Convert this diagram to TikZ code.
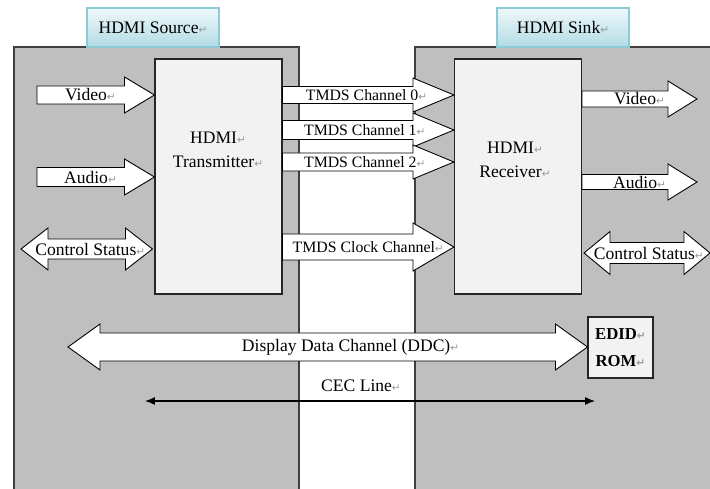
\documentclass[tikz,border=0pt]{standalone}
\usepackage{fontspec}
\setmainfont{Liberation Serif}
\newfontfamily\symfont{DejaVu Sans}
\usetikzlibrary{arrows.meta,calc,positioning}
\definecolor{caseF}{HTML}{BFBFBF}
\definecolor{caseD}{HTML}{3F3F3F}
\definecolor{unitF}{HTML}{F2F2F2}
\definecolor{unitD}{HTML}{262626}
\definecolor{tabT}{HTML}{EEF8FA}
\definecolor{tabB}{HTML}{B2DCE4}
\definecolor{tabD}{HTML}{8ECAD6}
\definecolor{markC}{HTML}{9A9A9A}
\tikzset{
  case/.style={draw=caseD, fill=caseF, line width=0.9pt, minimum width=5.7cm, minimum height=8.9cm},
  unit/.style={draw=unitD, fill=unitF, line width=0.6pt, minimum width=2.54cm, minimum height=4.7cm},
  tab/.style={draw=tabD, top color=tabT, bottom color=tabB, line width=0.6pt, minimum width=2.64cm,
              minimum height=0.78cm, font=\fontsize{10}{12}\selectfont},
  rom/.style={draw=unitD, fill=unitF, line width=0.6pt, minimum width=1.3cm, minimum height=1.22cm,
              align=center, font=\bfseries\fontsize{9.5}{15}\selectfont},
  fat/.style={draw=black, fill=white, line width=0.5pt, line join=miter},
  lab/.style={font=\fontsize{10}{12}\selectfont, inner sep=0pt},
  tmds/.style={lab, font=\fontsize{9}{11}\selectfont},
  cecline/.style={{Latex[length=2mm,width=1.6mm]}-{Latex[length=2mm,width=1.6mm]}, line width=0.6pt},
}
\newcommand\retmark{{\color{markC}\symfont\fontsize{6}{6}\selectfont ↵}}
% [label opts]{from}{tip}{shaft}{head}{head length}{label}
\newcommand\fatarrow[7][]{%
  \draw[fat] ($(#2)+(0,#4)$) -- ($(#3)+(-#6,#4)$) -- ($(#3)+(-#6,#5)$) -- (#3)
    -- ($(#3)+(-#6,-#5)$) -- ($(#3)+(-#6,-#4)$) -- ($(#2)+(0,-#4)$) -- cycle;
  \path (#2) -- node[lab,#1] {#7} (#3);}
\newcommand\dblarrow[7][]{%
  \draw[fat] (#2) -- ($(#2)+(#6,-#5)$) -- ($(#2)+(#6,-#4)$) -- ($(#3)+(-#6,-#4)$) -- ($(#3)+(-#6,-#5)$)
    -- (#3) -- ($(#3)+(-#6,#5)$) -- ($(#3)+(-#6,#4)$) -- ($(#2)+(#6,#4)$) -- ($(#2)+(#6,#5)$) -- cycle;
  \path (#2) -- node[lab,#1] {#7} (#3);}

\begin{document}
\begin{tikzpicture}[x=0.02cm, y=-0.02cm]
\useasboundingbox (0,0) rectangle (710,489);
\node[case] (src) at (156.5,269.5) {};
\node[case, minimum width=6cm] (sink) at (565,269.5) {};
\node[tab] (srctab) at (153,27.5) {HDMI Source\retmark};
\node[tab] (sinktab) at (563,27.5) {HDMI Sink\retmark};
\node[unit] (tx) at (218.5,176.5) {};
\node[unit] (rx) at (518,176.5) {};
\node[lab, align=center, font=\fontsize{10}{14}\selectfont] (txlab) at (218,150) {HDMI\retmark\\Transmitter\retmark};
\node[lab, align=center, font=\fontsize{10}{14}\selectfont] (rxlab) at (515,160) {HDMI\retmark\\Receiver\retmark};
\node[rom] (edid) at (620.5,347.5) {EDID\retmark\\ROM\retmark};
% source side
\coordinate (vin) at (37,95);
\coordinate (ain) at (37,177);
\coordinate (cin) at (21,249);
\fatarrow[xshift=-3]{vin}{vin -| tx.west}{9}{18}{30}{Video\retmark}
\fatarrow[xshift=-3]{ain}{ain -| tx.west}{9.5}{18}{30}{Audio\retmark}
\dblarrow[xshift=2]{cin}{$(cin -| tx.west)+(-2,0)$}{10}{21}{27}{Control Status\retmark}
% TMDS links
\coordinate (ch0) at (tx.east |- 0,95);
\coordinate (ch1) at (tx.east |- 0,130);
\coordinate (ch2) at (tx.east |- 0,162);
\coordinate (clk) at (tx.east |- 0,247);
\fatarrow[tmds, xshift=-1]{ch0}{ch0 -| rx.west}{8.5}{17}{41}{TMDS Channel 0\retmark}
\fatarrow[tmds, xshift=-2]{ch1}{ch1 -| rx.west}{9.5}{17}{41}{TMDS Channel 1\retmark}
\fatarrow[tmds, xshift=-2]{ch2}{ch2 -| rx.west}{9}{17}{41}{TMDS Channel 2\retmark}
\fatarrow[tmds]{clk}{clk -| rx.west}{13}{24}{41}{TMDS Clock Channel\retmark}
% sink side
\coordinate (vout) at (697,99);
\coordinate (aout) at (697,182);
\coordinate (cout) at (710,253);
\fatarrow{rx.east |- vout}{vout}{8}{18}{29}{Video\retmark}
\fatarrow{rx.east |- aout}{aout}{7.5}{18}{29}{Audio\retmark}
\dblarrow[xshift=1]{$(rx.east |- cout)+(2,0)$}{cout}{10.5}{21.5}{26}{Control Status\retmark}
% DDC and CEC
\coordinate (ddc) at (68,347);
\dblarrow[xshift=13]{ddc}{ddc -| edid.west}{14}{23}{32}{Display Data Channel (DDC)\retmark}
\coordinate (cecL) at (145,401);
\coordinate (cecR) at (595,401);
\draw[cecline] (cecL) -- node[lab, pos=0.48, above=5pt] (ceclab) {CEC Line\retmark} (cecR);
\end{tikzpicture}
\end{document}
